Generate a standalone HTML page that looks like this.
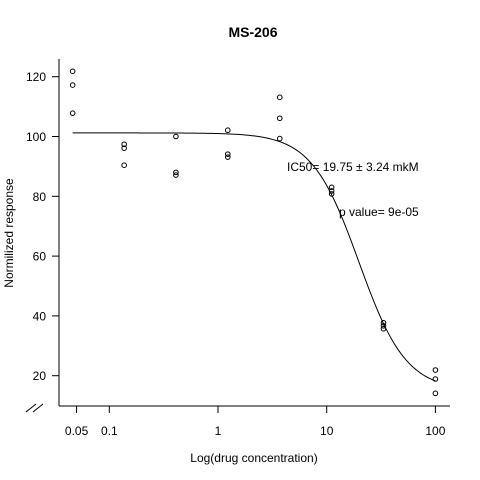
<!DOCTYPE html>
<html><head><meta charset="utf-8"><style>
html,body{margin:0;padding:0;background:#fff;}
svg{display:block;font-family:"Liberation Sans",Arial,sans-serif;}
</style></head><body>
<svg id="chart" width="480" height="480" viewBox="0 0 480 480" xmlns="http://www.w3.org/2000/svg">
<rect width="480" height="480" fill="#fff"/>
<text x="253" y="37" text-anchor="middle" font-size="14" font-weight="bold">MS-206</text>
<g>
<line x1="59" y1="59" x2="59" y2="406" stroke="#000"/>
</g>
<g>
<line x1="59" y1="406" x2="450" y2="406" stroke="#000"/>
</g>
<g stroke="#000">
<line x1="26" y1="412" x2="36" y2="404"/>
<line x1="33" y1="412" x2="43" y2="404"/>
</g>
<text transform="translate(13,233) rotate(-90)" text-anchor="middle" font-size="12">Normilized response</text>
<text x="254" y="462" text-anchor="middle" font-size="12">Log(drug concentration)</text>
<text x="287" y="171" font-size="12">IC50= 19.75 ± 3.24 mkM</text>
<text x="339" y="216" font-size="12">p value= 9e-05</text>
<g id="ticks"></g>
<path id="fit" fill="none" stroke="#000" stroke-width="1"/>
<g id="pts"></g>
</svg>
<script>
const xTicks = [0.05, 0.1, 1, 10, 100];
const xTickLabels = ["0.05", "0.1", "1", "10", "100"];
const yTicks = [20, 40, 60, 80, 100, 120];
const concentrations = [0.046, 0.137, 0.41, 1.23, 3.7, 11.1, 33.3, 100];
const rep1 = [121.8, 97.4, 100.0, 102.1, 113.1, 83.0, 37.7, 21.9];
const rep2 = [117.2, 96.1, 88.0, 94.1, 106.1, 81.8, 36.7, 18.9];
const rep3 = [107.8, 90.4, 87.1, 93.1, 99.3, 80.8, 35.7, 14.1];
const fitTop = 101.2, fitBottom = 15, fitIC50 = 19.75, fitHill = 2;

const NS = "http://www.w3.org/2000/svg";
function xs(v){ return 218 + Math.log10(v) * 108.7; }
function ys(v){ return 76.7 + (120 - v) * 2.99; }
const tg = document.getElementById('ticks');
xTicks.forEach((t, i) => {
  const l = document.createElementNS(NS, 'line');
  l.setAttribute('x1', xs(t)); l.setAttribute('x2', xs(t));
  l.setAttribute('y1', 406); l.setAttribute('y2', 413);
  l.setAttribute('stroke', '#000');
  
  
  tg.appendChild(l);
  const tx = document.createElementNS(NS, 'text');
  tx.setAttribute('x', xs(t)); tx.setAttribute('y', 435);
  tx.setAttribute('text-anchor', 'middle'); tx.setAttribute('font-size', '12');
  tx.textContent = xTickLabels[i];
  
  
  tg.appendChild(tx);
});
yTicks.forEach(t => {
  const l = document.createElementNS(NS, 'line');
  l.setAttribute('x1', 52); l.setAttribute('x2', 59);
  l.setAttribute('y1', ys(t)); l.setAttribute('y2', ys(t));
  l.setAttribute('stroke', '#000');
  
  
  tg.appendChild(l);
  const tx = document.createElementNS(NS, 'text');
  tx.setAttribute('x', 46); tx.setAttribute('y', ys(t) + 4.5);
  tx.setAttribute('text-anchor', 'end'); tx.setAttribute('font-size', '12');
  tx.textContent = String(t);
  
  
  tg.appendChild(tx);
});
const pg = document.getElementById('pts');
[rep1, rep2, rep3].forEach(rep => {
  rep.forEach((v, i) => {
    const c = document.createElementNS(NS, 'circle');
    c.setAttribute('cx', xs(concentrations[i]));
    c.setAttribute('cy', ys(v));
    c.setAttribute('r', 2.3);
    c.setAttribute('fill', 'none');
    c.setAttribute('stroke', '#000');
    
    
    pg.appendChild(c);
  });
});
let d = '';
const lo = Math.log10(concentrations[0]), hi = Math.log10(concentrations[concentrations.length - 1]);
for (let k = 0; k <= 200; k++) {
  const lx = lo + (hi - lo) * k / 200, x = Math.pow(10, lx);
  const v = fitBottom + (fitTop - fitBottom) / (1 + Math.pow(x / fitIC50, fitHill));
  d += (k ? 'L' : 'M') + xs(x).toFixed(2) + ' ' + ys(v).toFixed(2);
}
document.getElementById('fit').setAttribute('d', d);
</script>
</body></html>
